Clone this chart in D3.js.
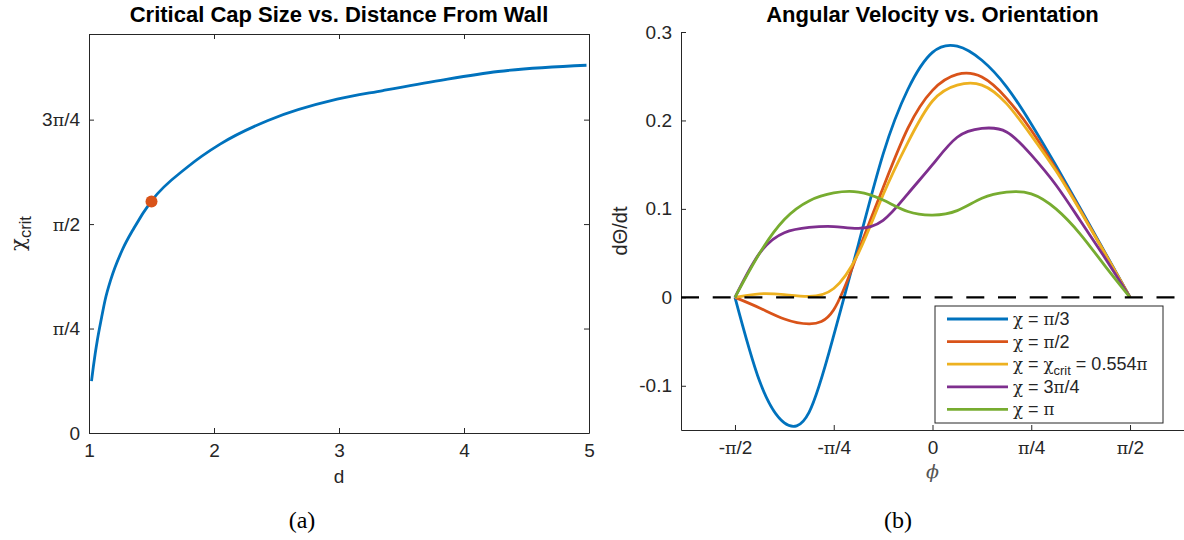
<!DOCTYPE html>
<html>
<head>
<meta charset="utf-8">
<script src="https://cdn.jsdelivr.net/npm/d3@7"></script>
<style>
  body { margin: 0; background: #fff; }
  svg { display: block; }
</style>
</head>
<body>
<div id="chart"></div>
<script>
// chart.js
const width = 1184;
const height = 540;
const sansFont = "'Liberation Sans', Arial, Helvetica, sans-serif";
const serifFont = "'Liberation Serif', 'Times New Roman', serif";
const greekFont = "'DejaVu Serif', serif";

// ---- data: panel (a), critical cap size vs distance
const dValues = [1.02, 1.035, 1.05, 1.067, 1.1, 1.129, 1.175, 1.267, 1.359, 1.5, 1.788, 2.049, 2.432, 2.985, 3.352, 3.813, 4.273, 4.98];
const chiCrit = [0.39, 0.50, 0.60, 0.70, 0.865, 1.0, 1.155, 1.378, 1.540, 1.745, 2.0, 2.172, 2.350, 2.51, 2.575, 2.652, 2.718, 2.765];
const critPoint = [1.5, 1.74]; // d, chi_crit (0.554 pi)

// ---- data: panel (b), angular velocity vs orientation
const phiValues = [-1.5708, -1.3744, -1.1781, -0.9817, -0.7854, -0.5890, -0.3927, -0.1963, 0,
                   0.1963, 0.3927, 0.5890, 0.7854, 0.9817, 1.1781, 1.3744, 1.5708];
const omegaPi3 = [0, -0.095, -0.142, -0.130, -0.043, 0.060, 0.162, 0.235, 0.277, 0.284, 0.268, 0.238, 0.196, 0.149, 0.100, 0.050, 0];
const omegaPi2 = [0, -0.012, -0.0245, -0.030, -0.014, 0.052, 0.124, 0.191, 0.234, 0.252, 0.249, 0.225, 0.189, 0.145, 0.098, 0.049, 0];
const omegaCrit = [0, 0.004, 0.003, 0.001, 0.010, 0.050, 0.116, 0.175, 0.222, 0.240, 0.240, 0.219, 0.183, 0.143, 0.097, 0.049, 0];
const omega3Pi4 = [0, 0.050, 0.073, 0.079, 0.080, 0.078, 0.087, 0.117, 0.150, 0.181, 0.191, 0.187, 0.161, 0.127, 0.086, 0.044, 0];
const omegaPi = [0, 0.050, 0.088, 0.109, 0.118, 0.119, 0.110, 0.097, 0.093, 0.098, 0.112, 0.119, 0.117, 0.100, 0.071, 0.035, 0];
const seriesLabels = ["χ = π/3", "χ = π/2", "χ = χ_crit = 0.554π", "χ = 3π/4", "χ = π"];
const seriesColors = ["#0072BD", "#D95319", "#EDB120", "#7E2F8E", "#77AC30"];

// ---- tick values / labels
const aYTicks = [0, Math.PI / 4, Math.PI / 2, 3 * Math.PI / 4];
const aYLabels = ["0", "π/4", "π/2", "3π/4"];
const aXTicks = [1, 2, 3, 4, 5];
const bXTicks = [-Math.PI / 2, -Math.PI / 4, 0, Math.PI / 4, Math.PI / 2];
const bXLabels = ["-π/2", "-π/4", "0", "π/4", "π/2"];
const bYTicks = [-0.1, 0, 0.1, 0.2, 0.3];

const axisColor = "#262626";
const tickFont = 19;

const svg = d3.select("#chart").append("svg")
    .attr("width", width)
    .attr("height", height)
    .attr("font-family", sansFont);

// writes a string into a <text>, greek letters in serif, "_crit" as subscript
function richText(sel, str, fs) {
    const parts = str.split(/(_crit|[χπ])/).filter(s => s !== "");
    let lowered = false;
    parts.forEach(p => {
        if (p === "_crit") {
            sel.append("tspan").attr("dy", fs * 0.25).attr("font-size", fs * 0.72)
                .attr("font-family", sansFont).text("crit");
            lowered = true;
            return;
        }
        const t = sel.append("tspan").text(p);
        if (lowered) { t.attr("dy", -fs * 0.25); lowered = false; }
        if (/[χπ]/.test(p)) {
            t.attr("font-family", greekFont).attr("font-size", fs * 0.92);
        } else {
            t.attr("font-family", sansFont);
        }
    });
}

function styleAxis(g, labels) {
    g.select(".domain").attr("stroke", axisColor);
    g.selectAll(".tick line").attr("stroke", axisColor);
    g.selectAll(".tick text")
        .attr("fill", axisColor)
        .attr("font-size", tickFont)
        .attr("font-family", sansFont)
        .each(function(d, i) {
            const t = d3.select(this);
            const s = labels ? labels[i] : t.text();
            t.text("");
            richText(t, s, tickFont);
        });
}

// ================= panel (a) =================
const a = { left: 89, right: 589, top: 34, bottom: 433 };
const xA = d3.scaleLinear().domain([1, 5]).range([a.left, a.right]);
const yA = d3.scaleLinear().domain([0, 3]).range([a.bottom, a.top]);

svg.append("g")
    .attr("transform", `translate(0,${a.bottom})`)
    .call(d3.axisBottom(xA).tickValues(aXTicks).tickSizeInner(-5).tickSizeOuter(0).tickPadding(11).tickFormat(d3.format("d")))
    .call(g => styleAxis(g));
svg.append("g")
    .attr("transform", `translate(0,${a.top})`)
    .call(d3.axisTop(xA).tickValues(aXTicks).tickSizeInner(-5).tickSizeOuter(0).tickFormat(""))
    .call(g => styleAxis(g));
svg.append("g")
    .attr("transform", `translate(${a.left},0)`)
    .call(d3.axisLeft(yA).tickValues(aYTicks).tickSizeInner(-5).tickSizeOuter(0).tickPadding(9))
    .call(g => styleAxis(g, aYLabels));
svg.append("g")
    .attr("transform", `translate(${a.right},0)`)
    .call(d3.axisRight(yA).tickValues(aYTicks).tickSizeInner(-5).tickSizeOuter(0).tickFormat(""))
    .call(g => styleAxis(g));

const lineA = d3.line()
    .x((d, i) => xA(dValues[i]))
    .y(d => yA(d))
    .curve(d3.curveMonotoneX);

svg.append("path")
    .datum(chiCrit)
    .attr("d", lineA)
    .attr("fill", "none")
    .attr("stroke", seriesColors[0])
    .attr("stroke-width", 2.8);

svg.append("circle")
    .attr("cx", xA(critPoint[0]))
    .attr("cy", yA(critPoint[1]))
    .attr("r", 6)
    .attr("fill", seriesColors[1]);

svg.append("text")
    .attr("x", (a.left + a.right) / 2)
    .attr("y", 22)
    .attr("text-anchor", "middle")
    .attr("font-weight", "bold")
    .attr("font-size", 22)
    .text("Critical Cap Size vs. Distance From Wall");

svg.append("text")
    .attr("x", (a.left + a.right) / 2)
    .attr("y", 483)
    .attr("text-anchor", "middle")
    .attr("font-size", 19)
    .attr("fill", axisColor)
    .text("d");

const yLabA = svg.append("text")
    .attr("transform", `translate(25,${(a.top + a.bottom) / 2}) rotate(-90)`)
    .attr("text-anchor", "middle")
    .attr("font-size", 23)
    .attr("fill", axisColor);
richText(yLabA, "χ_crit", 23);

svg.append("text")
    .attr("x", 302)
    .attr("y", 528)
    .attr("text-anchor", "middle")
    .attr("font-family", serifFont)
    .attr("font-size", 24)
    .text("(a)");

// ================= panel (b) =================
const b = { left: 681, right: 1184, top: 32, bottom: 430 };
const xB = d3.scaleLinear().domain([-2, 2]).range([b.left, b.right]);
const yB = d3.scaleLinear().domain([-0.15, 0.3]).range([b.bottom, b.top]);

svg.append("g")
    .attr("transform", `translate(0,${b.bottom})`)
    .call(d3.axisBottom(xB).tickValues(bXTicks).tickSizeInner(-5).tickSizeOuter(0).tickPadding(11))
    .call(g => styleAxis(g, bXLabels));
svg.append("g")
    .attr("transform", `translate(${b.left},0)`)
    .call(d3.axisLeft(yB).tickValues(bYTicks).tickSizeInner(-5).tickSizeOuter(0).tickPadding(9).tickFormat(d => d === 0 ? "0" : d3.format(".1f")(d).replace("−", "-")))
    .call(g => styleAxis(g));

const allSeries = [omegaPi3, omegaPi2, omegaCrit, omega3Pi4, omegaPi];

const lineB = d3.line()
    .x((d, i) => xB(phiValues[i]))
    .y(d => yB(d))
    .curve(d3.curveNatural);

svg.append("g")
    .selectAll("path")
    .data(allSeries)
    .enter().append("path")
    .attr("d", lineB)
    .attr("fill", "none")
    .attr("stroke", (d, i) => seriesColors[i])
    .attr("stroke-width", 2.8);

// zero line
svg.append("line")
    .attr("x1", xB(-2))
    .attr("x2", xB(2))
    .attr("y1", yB(0))
    .attr("y2", yB(0))
    .attr("stroke", "#000")
    .attr("stroke-width", 2.4)
    .attr("stroke-dasharray", "18,13.7");

svg.append("text")
    .attr("x", xB(0))
    .attr("y", 22)
    .attr("text-anchor", "middle")
    .attr("font-weight", "bold")
    .attr("font-size", 22)
    .text("Angular Velocity vs. Orientation");

svg.append("text")
    .attr("x", xB(0))
    .attr("y", 478)
    .attr("text-anchor", "middle")
    .attr("font-size", 19)
    .attr("font-style", "italic")
    .attr("font-family", greekFont)
    .attr("fill", "#555")
    .text("ϕ");

svg.append("text")
    .attr("transform", `translate(627,${(b.top + b.bottom) / 2}) rotate(-90)`)
    .attr("text-anchor", "middle")
    .attr("font-size", 20)
    .attr("fill", axisColor)
    .text("dΘ/dt");

svg.append("text")
    .attr("x", 898)
    .attr("y", 528)
    .attr("text-anchor", "middle")
    .attr("font-family", serifFont)
    .attr("font-size", 24)
    .text("(b)");

// legend
const legend = svg.append("g").attr("transform", "translate(935,306)");
legend.append("rect")
    .attr("width", 228)
    .attr("height", 117)
    .attr("fill", "#fff")
    .attr("stroke", axisColor)
    .attr("stroke-width", 1);

const entry = legend.selectAll("g.entry")
    .data(seriesLabels)
    .enter().append("g")
    .attr("class", "entry")
    .attr("transform", (d, i) => `translate(0,${13 + i * 22.6})`);

entry.append("line")
    .attr("x1", 12)
    .attr("x2", 73)
    .attr("stroke", (d, i) => seriesColors[i])
    .attr("stroke-width", 2.8);

entry.append("text")
    .attr("x", 78)
    .attr("y", 6)
    .attr("font-size", 18)
    .attr("fill", axisColor)
    .each(function(d) { richText(d3.select(this), d, 18); });
</script>
</body>
</html>
